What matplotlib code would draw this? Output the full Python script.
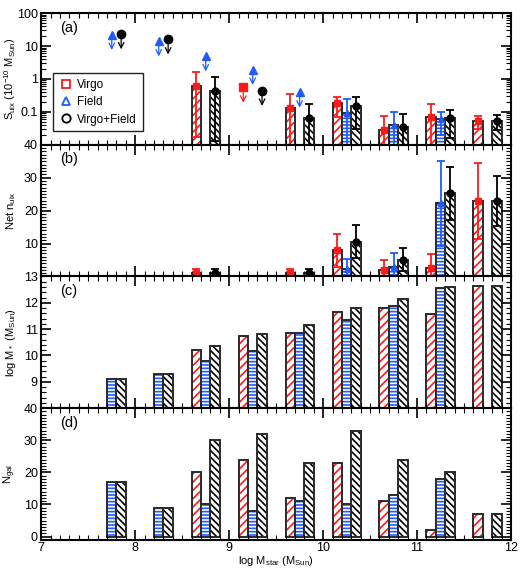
import numpy as np
import matplotlib
matplotlib.use("Agg")
import matplotlib.pyplot as plt
from matplotlib.ticker import MultipleLocator, LogLocator, NullFormatter

plt.rcParams['font.family'] = ['Liberation Sans', 'DejaVu Sans']
plt.rcParams['mathtext.default'] = 'regular'
plt.rcParams['hatch.linewidth'] = 1.2

# bin centres in log M_star
mbin = [7.75, 8.25, 8.75, 9.25, 9.75, 10.25, 10.75, 11.25, 11.75]

# (a) S_uix  (nan = no detection / upper limit given separately)
s_virgo = [np.nan, np.nan, 0.59, np.nan, 0.128, 0.18, 0.028, 0.069, 0.053]
s_virgo_err = [0, 0, 1.05, 0, 0.22, 0.11, 0.046, 0.11, 0.023]
s_field = [np.nan, np.nan, np.nan, np.nan, np.nan, 0.094, 0.041, 0.06, np.nan]
s_field_err = [0, 0, 0, 0, 0, 0.146, 0.056, 0.04, 0]
s_all = [np.nan, np.nan, 0.44, np.nan, 0.065, 0.155, 0.035, 0.063, 0.053]
s_all_err = [0, 0, 0.74, 0, 0.105, 0.125, 0.05, 0.047, 0.025]
# upper limits
ul_virgo = [np.nan, np.nan, np.nan, 0.55, np.nan, np.nan, np.nan, np.nan, np.nan]
ul_field = [22, 14, 4.9, 1.9, 0.39, np.nan, np.nan, np.nan, np.nan]
ul_all = [23, 16, np.nan, 0.44, np.nan, np.nan, np.nan, np.nan, np.nan]

# (b) net n_uix
n_virgo = [np.nan, np.nan, 1.0, np.nan, 1.0, 8.0, 1.9, 2.6, 23.0]
n_virgo_err = [0, 0, 1.2, 0, 1.2, 5.0, 3.1, 4.3, 11.6]
n_field = [np.nan, np.nan, np.nan, np.nan, np.nan, 2.2, 2.8, 22.2, np.nan]
n_field_err = [0, 0, 0, 0, 0, 3.0, 4.4, 13.0, 0]
n_all = [np.nan, np.nan, 1.0, np.nan, 1.0, 10.5, 5.1, 25.2, 23.0]
n_all_err = [0, 0, 1.2, 0, 1.2, 5.0, 3.5, 8.2, 7.6]

# (c) log M_* stacked mass
lm_virgo = [np.nan, np.nan, 10.22, 10.72, 10.87, 11.64, 11.82, 11.58, 12.65]
lm_field = [9.11, 9.29, 9.78, 10.18, 10.87, 11.33, 11.88, 12.55, np.nan]
lm_all = [9.11, 9.29, 10.35, 10.83, 11.17, 11.82, 12.14, 12.6, 12.65]

# (d) number of galaxies
ng_virgo = [0, 0, 20, 24, 12, 23, 11, 2, 7]
ng_field = [17, 9, 10, 8, 11, 10, 13, 18, 0]
ng_all = [17, 9, 30, 32, 23, 33, 24, 20, 7]

red = '#ff1a1a'
blue = '#1f5cff'
blk = 'black'
w = 0.1
x = np.array(mbin)
xs = [x - w, x, x + w]
cols = [red, blue, blk]
hatches = ['////', '-----', '\\\\\\\\\\']
marks = ['s', '^', 'o']

fig = plt.figure(figsize=(5.23, 5.70), dpi=100)
gs = fig.add_gridspec(4, 1, left=0.079, right=0.977, top=0.977, bottom=0.053, hspace=0)
axes = [fig.add_subplot(gs[i]) for i in range(4)]


def bars(ax, vals, bottom=0.0):
    for xx, v, c, h in zip(xs, vals, cols, hatches):
        v = np.array(v, dtype=float)
        ok = (~np.isnan(v)) & (v > 0)
        ax.bar(xx[ok], v[ok] - bottom, bottom=bottom, width=w, color='white',
               edgecolor=c, hatch=h, linewidth=0)
        ax.bar(xx[ok], v[ok] - bottom, bottom=bottom, width=w, fill=False,
               edgecolor='#2a2a2a', linewidth=1.4)


def errs(ax, vals, errv):
    for xx, v, e, c, m in zip(xs, vals, errv, cols, marks):
        v = np.array(v, dtype=float)
        e = np.array(e, dtype=float)
        ok = ~np.isnan(v)
        lo = np.minimum(e[ok], v[ok] * 0.97)
        ax.errorbar(xx[ok], v[ok], yerr=[lo, e[ok]], fmt=m, color=c, ms=5,
                    elinewidth=1.3, capsize=3, capthick=1.3, zorder=5)


def limits(ax, vals):
    for xx, v, c, m in zip(xs, vals, cols, marks):
        v = np.array(v, dtype=float)
        ok = ~np.isnan(v)
        ax.plot(xx[ok], v[ok], m, color=c, ms=6, zorder=5)
        for a, b in zip(xx[ok], v[ok]):
            ax.annotate('', xy=(a, b / 2.9), xytext=(a, b / 1.3),
                        arrowprops=dict(arrowstyle='->', color=c, lw=0.9,
                                        shrinkA=0, shrinkB=0))


# (a)
ax = axes[0]
ax.set_yscale('log')
bars(ax, [s_virgo, s_field, s_all], bottom=0.01)
errs(ax, [s_virgo, s_field, s_all], [s_virgo_err, s_field_err, s_all_err])
limits(ax, [ul_virgo, ul_field, ul_all])
ax.set_ylim(0.01, 100)
ax.set_yticks([0.1, 1, 10, 100])
ax.set_yticklabels(['0.1', '1', '10', '100'])
ax.yaxis.set_minor_locator(LogLocator(subs=np.arange(2, 10)))
ax.yaxis.set_minor_formatter(NullFormatter())
ax.set_ylabel('S$_{uix}$ (10$^{-10}$ M$_{Sun}$)', fontsize=8)
for c, m, lab in zip(cols, marks, ['Virgo', 'Field', 'Virgo+Field']):
    ax.plot([], [], m, mfc='none', mec=c, mew=1.3, ms=6, label=lab)
ax.legend(loc='upper left', bbox_to_anchor=(0.024, 0.545), fontsize=8.5, frameon=True,
          fancybox=False, edgecolor='#222222', handletextpad=0.3, borderpad=0.5,
          labelspacing=0.45, handlelength=1.3, framealpha=1, borderaxespad=0)

# (b)
ax = axes[1]
bars(ax, [n_virgo, n_field, n_all])
errs(ax, [n_virgo, n_field, n_all], [n_virgo_err, n_field_err, n_all_err])
ax.set_ylim(0, 40)
ax.set_yticks([10, 20, 30, 40])
ax.yaxis.set_minor_locator(MultipleLocator(1))
ax.set_ylabel('Net n$_{uix}$', fontsize=8)

# (c)
ax = axes[2]
bars(ax, [lm_virgo, lm_field, lm_all], bottom=8.0)
ax.set_ylim(8, 13)
ax.set_yticks([9, 10, 11, 12, 13])
ax.yaxis.set_minor_locator(MultipleLocator(0.2))
ax.set_ylabel('log M$_*$ (M$_{Sun}$)', fontsize=8)

# (d)
ax = axes[3]
bars(ax, [ng_virgo, ng_field, ng_all])
ax.set_ylim(-1, 40)
ax.set_yticks([0, 10, 20, 30, 40])
ax.yaxis.set_minor_locator(MultipleLocator(1))
ax.set_ylabel('N$_{gal}$', fontsize=8)
ax.set_xlabel('log M$_{star}$ (M$_{Sun}$)', fontsize=8, labelpad=0)

for ax, lab in zip(axes, ['(a)', '(b)', '(c)', '(d)']):
    ax.set_xlim(7, 12)
    ax.xaxis.set_major_locator(MultipleLocator(1))
    ax.xaxis.set_minor_locator(MultipleLocator(0.1))
    ax.tick_params(which='both', direction='in', top=True, right=True, labelsize=9, pad=2.5)
    ax.tick_params(axis='x', pad=1.5)
    ax.tick_params(which='major', length=7, width=1.2)
    ax.tick_params(which='minor', length=3.5, width=0.8)
    for sp in ax.spines.values():
        sp.set_linewidth(1.5)
    ax.text(0.04, 0.89, lab, transform=ax.transAxes, fontsize=10.5, va='center')
    if ax is not axes[3]:
        ax.tick_params(labelbottom=False)
    ax.yaxis.set_label_coords(-0.05, 0.5)

fig.savefig('out.png', dpi=100)
